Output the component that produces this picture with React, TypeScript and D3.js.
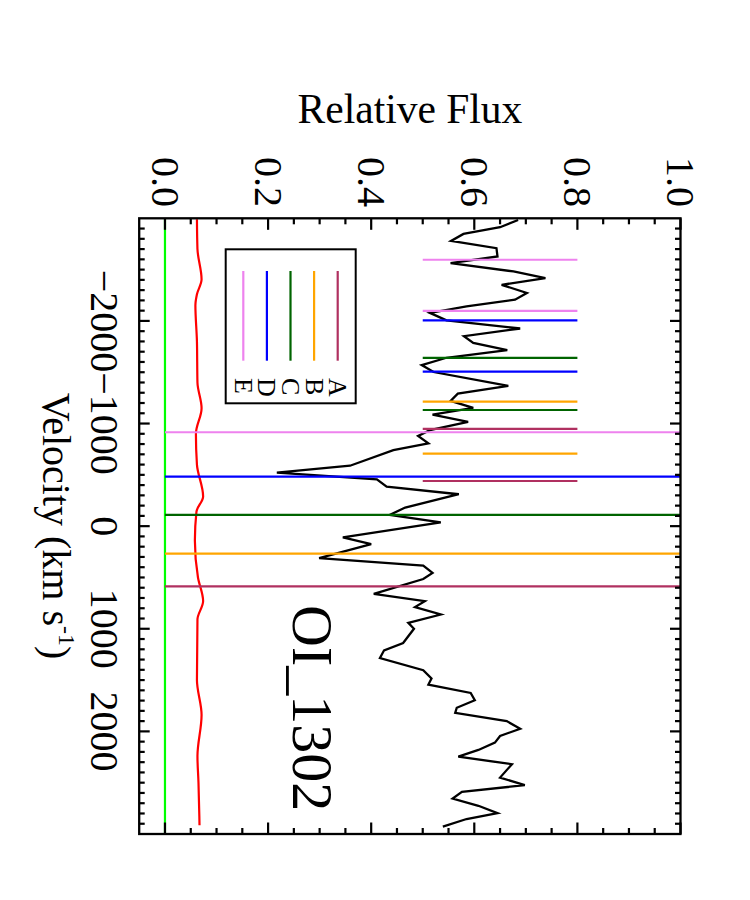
import React from 'react';
import * as d3 from 'd3';

// Spectrum (velocity in km/s, relative flux)
const velocity = [
  -2983, -2913, -2848, -2780, -2709, -2628, -2563, -2482, -2417, -2352,
  -2272, -2207, -2142, -2078, -2006, -1926, -1851, -1786, -1715, -1641,
  -1570, -1502, -1366, -1291, -1220, -1152, -1087, -1016, -935, -880,
  -806, -741, -589, -521, -456, -385, -311, -181, -110, -36,
  110, 175, 311, 385, 456, 515, 660, 731, 789, 861,
  942, 1000, 1139, 1210, 1285, 1404, 1485, 1544, 1625, 1696,
  1770, 1819, 1900, 1974, 2045, 2110, 2181, 2246, 2320, 2450,
  2524, 2589, 2654, 2725, 2796, 2854, 2929,
];
const flux = [
  0.685, 0.650, 0.579, 0.555, 0.643, 0.645, 0.554, 0.676, 0.738, 0.653,
  0.702, 0.679, 0.585, 0.514, 0.546, 0.689, 0.580, 0.598, 0.664, 0.546,
  0.498, 0.521, 0.666, 0.568, 0.554, 0.598, 0.519, 0.588, 0.514, 0.491,
  0.511, 0.443, 0.359, 0.217, 0.411, 0.430, 0.570, 0.466, 0.436, 0.535,
  0.345, 0.400, 0.299, 0.501, 0.519, 0.501, 0.405, 0.504, 0.485, 0.535,
  0.472, 0.483, 0.462, 0.425, 0.417, 0.501, 0.517, 0.511, 0.593, 0.601,
  0.566, 0.563, 0.663, 0.689, 0.650, 0.640, 0.608, 0.569, 0.673, 0.650,
  0.698, 0.576, 0.558, 0.608, 0.645, 0.585, 0.539,
];

// Error spectrum
const errVelocity = [
  -2990, -2700, -2405, -2260, -2150, -1800, -1400, -1150, -900, -600,
  -290, -140, 140, 500, 730, 910, 1500, 1840, 2240, 2500, 2915,
];
const errFlux = [
  0.062, 0.063, 0.071, 0.062, 0.059, 0.062, 0.063, 0.071, 0.060, 0.062,
  0.074, 0.061, 0.058, 0.064, 0.074, 0.063, 0.062, 0.071, 0.063, 0.065, 0.067,
];

// Absorption components
const components = ['A', 'B', 'C', 'D', 'E'];
const componentColors = ['#B03060', '#FFA500', '#006400', '#0000FF', '#EE82EE'];
const componentVelocity = [586, 268, -109, -482, -915];
const otherLineVelocity = [
  [-440, -947],
  [-706, -1213],
  [-1132, -1639],
  [-1505, -2006],
  [-2097, -2596],
];

const velocityTicks = [-2000, -1000, 0, 1000, 2000];
const velocityTickLabels = ['\u22122000', '\u22121000', '0', '1000', '2000'];
const fluxTicks = [0, 0.2, 0.4, 0.6, 0.8, 1.0];
const fluxTickLabels = ['0.0', '0.2', '0.4', '0.6', '0.8', '1.0'];

const FONT = '"Liberation Serif", "Times New Roman", serif';

export default function App() {
  // landscape coordinates (the whole plot is rotated 90° clockwise on the page)
  const X0 = 218.3;
  const X1 = 834;
  const Ytop = 69.5;
  const Ybot = 610.8;
  const x = d3.scaleLinear().domain([-3000, 3000]).range([X0, X1]);
  const y = d3.scaleLinear().domain([-0.05, 1.0]).range([Ybot, Ytop]);

  const line = d3
    .line<number>()
    .x((_, i) => x(velocity[i]))
    .y((d) => y(d));
  const errLine = d3
    .line<number>()
    .x((_, i) => x(errVelocity[i]))
    .y((d) => y(d))
    .curve(d3.curveMonotoneX);

  const vMinor = d3.range(-29, 30).map((k) => k * 100);
  const fMinor = d3.range(0, 21).map((k) => k * 0.05);

  const legendTop = 412.3;
  const legendStep = 23.6;

  return (
    <svg
      width={750}
      height={900}
      style={{ position: 'absolute', left: 0, top: 0, background: '#fff' }}
      fontFamily={FONT}
    >
      <rect x={0} y={0} width={750} height={900} fill="#fff" />
      <text x={410} y={123} fontSize={41.5} textAnchor="middle" fill="#000">
        Relative Flux
      </text>
      <g transform="translate(750,0) rotate(90)">
        {/* zero line */}
        <line x1={X0} x2={X1} y1={y(0)} y2={y(0)} stroke="#00FF00" strokeWidth={2.2} />
        {/* error spectrum */}
        <path d={errLine(errFlux) || ''} fill="none" stroke="#FF0000" strokeWidth={2.2} />
        {/* spectrum */}
        <path d={line(flux) || ''} fill="none" stroke="#000" strokeWidth={2.3} strokeLinejoin="miter" />
        {/* component markers */}
        {components.map((c, i) => (
          <g key={c}>
            <line
              x1={x(componentVelocity[i])}
              x2={x(componentVelocity[i])}
              y1={y(0)}
              y2={y(1)}
              stroke={componentColors[i]}
              strokeWidth={2.2}
            />
            {otherLineVelocity[i].map((v, j) => (
              <line
                key={j}
                x1={x(v)}
                x2={x(v)}
                y1={y(0.5)}
                y2={y(0.8)}
                stroke={componentColors[i]}
                strokeWidth={2.2}
              />
            ))}
          </g>
        ))}
        {/* frame */}
        <rect x={X0} y={Ytop} width={X1 - X0} height={Ybot - Ytop} fill="none" stroke="#000" strokeWidth={2.3} />
        {/* velocity ticks (bottom & top) */}
        {vMinor.map((v) => {
          const major = v % 1000 === 0;
          const len = major ? 10.5 : 5.5;
          return (
            <g key={'v' + v}>
              <line x1={x(v)} x2={x(v)} y1={Ybot} y2={Ybot - len} stroke="#000" strokeWidth={2.2} />
              <line x1={x(v)} x2={x(v)} y1={Ytop} y2={Ytop + len} stroke="#000" strokeWidth={2.2} />
            </g>
          );
        })}
        {/* flux ticks (left & right) */}
        {fMinor.map((f, k) => {
          const major = k % 4 === 0;
          const len = major ? 11.5 : 6;
          return (
            <g key={'f' + k}>
              <line x1={X0} x2={X0 + len} y1={y(f)} y2={y(f)} stroke="#000" strokeWidth={2.2} />
              <line x1={X1} x2={X1 - len} y1={y(f)} y2={y(f)} stroke="#000" strokeWidth={2.2} />
            </g>
          );
        })}
        {/* tick labels */}
        {velocityTicks.map((v, i) => (
          <text key={'vl' + v} x={x(v)} y={659} fontSize={40} textAnchor="middle" fill="#000">
            {velocityTickLabels[i]}
          </text>
        ))}
        {fluxTicks.map((f, i) => (
          <text key={'fl' + i} x={207} y={y(f) + 13.3} fontSize={40} textAnchor="end" fill="#000">
            {fluxTickLabels[i]}
          </text>
        ))}
        {/* x title */}
        <text x={526} y={707} fontSize={40} textAnchor="middle" fill="#000">
          Velocity (km s
          <tspan fontSize={24} dy={-16}>
            -1
          </tspan>
          <tspan dy={16}>)</tspan>
        </text>
        {/* line label */}
        <text x={605} y={457} fontSize={58} fill="#000">
          OI_1302
        </text>
        {/* legend */}
        <rect x={249.3} y={394.3} width={154} height={130} fill="#fff" stroke="#000" strokeWidth={2} />
        {components.map((c, i) => {
          const ly = legendTop + i * legendStep;
          return (
            <g key={'lg' + c}>
              <line x1={271} x2={360.7} y1={ly} y2={ly} stroke={componentColors[i]} strokeWidth={2.2} />
              <text x={378} y={ly + 8.5} fontSize={26} fill="#000">
                {c}
              </text>
            </g>
          );
        })}
      </g>
    </svg>
  );
}
